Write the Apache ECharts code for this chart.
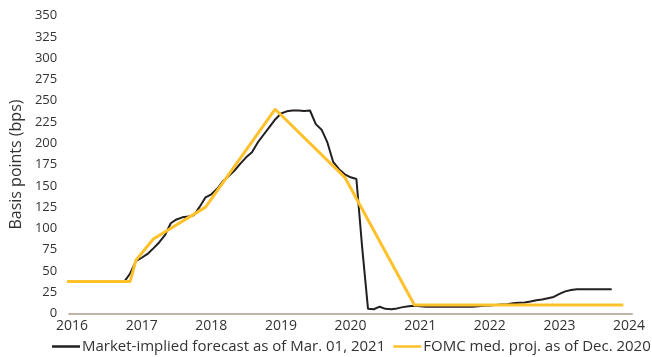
<!DOCTYPE html>
<html>
<head>
<meta charset="utf-8">
<script src="https://cdn.jsdelivr.net/npm/echarts@6/dist/echarts.min.js"></script>
<style>
  html, body { margin: 0; padding: 0; background: #ffffff; }
  #chart { width: 652px; height: 357px; }
</style>
</head>
<body>
<div id="chart"></div>
<script>
// Year labels on the horizontal axis
const yearTicks = [2016, 2017, 2018, 2019, 2020, 2021, 2022, 2023, 2024];

// Market-implied path, monthly from Dec 2015 (basis points)
const marketStart = '2015-12';
const marketValues = [
  37.5,
  37.5, 37.5, 37.5, 37.5, 37.5, 37.5, 37.5, 37.5, 37.5, 37.5,
  47, 61.5, 65.5, 70, 76.5, 83.5, 92, 106, 110.5, 113,
  114, 115.5, 125.5, 136.5, 140, 146.5, 155.5, 161.5, 168, 176,
  183.5, 189.5, 201, 210, 219, 228, 235, 237.5, 238.5, 238.5,
  238, 238.5, 222.5, 216, 201, 178, 169.5, 163.5, 160, 158,
  77, 5.5, 5, 8, 5.5, 5, 6, 7.5, 8.5, 9,
  8.5, 8, 8, 8, 8, 8, 8, 8, 8, 8,
  8.5, 9, 9.5, 10, 10.5, 11, 12, 12.5, 13, 14,
  15.5, 16.5, 18, 19.5, 23, 26, 27.5, 28.5, 28.5, 28.5,
  28.5, 28.5, 28.5, 28.5
];

// FOMC median projection path (basis points)
const fomcMonths = ['2015-12', '2016-11', '2016-12', '2017-03', '2017-12', '2018-12', '2019-12', '2020-12', '2023-12'];
const fomcValues = [37.5, 37.5, 62.5, 87.5, 125, 240, 160, 10, 10];

const seriesNames = ['Market-implied forecast as of Mar. 01, 2021', 'FOMC med. proj. as of Dec. 2020'];

// "YYYY-MM" -> fractional year at the start of that month
function monthPos(s) {
  const [y, m] = s.split('-').map(Number);
  return y + (m - 1) / 12;
}

const startPos = monthPos(marketStart);
const marketData = marketValues.map((v, i) => [startPos + i / 12, v]);
const fomcData = fomcMonths.map((m, i) => [monthPos(m), fomcValues[i]]);

const FONT = '"Open Sans", "Noto Sans", sans-serif';
const TEXT = '#333333';

const chart = echarts.init(document.getElementById('chart'), null, { renderer: 'canvas' });
chart.setOption({
  animation: false,
  backgroundColor: '#ffffff',
  grid: { left: 68, right: 20, top: 15.6, bottom: 43.5, containLabel: false },
  xAxis: {
    type: 'value',
    min: 2016 - 1 / 24,
    max: 2024 + 1 / 24,
    splitLine: { show: false },
    axisTick: { show: false },
    axisLine: { show: true, lineStyle: { color: '#BEB3A5', width: 2 } },
    axisLabel: {
      customValues: yearTicks,
      formatter: v => String(Math.round(v)),
      color: TEXT, fontFamily: FONT, fontSize: 14, margin: 6
    }
  },
  yAxis: {
    type: 'value',
    min: 0, max: 350, interval: 25,
    splitLine: { show: false },
    axisTick: { show: false },
    axisLine: { show: false },
    axisLabel: { color: TEXT, fontFamily: FONT, fontSize: 13, margin: 12 },
    name: 'Basis points (bps)',
    nameLocation: 'middle',
    nameGap: 45,
    nameTextStyle: { color: TEXT, fontFamily: FONT, fontSize: 16 }
  },
  legend: {
    data: seriesNames,
    left: 52, top: 339,
    padding: 0,
    icon: 'rect',
    itemWidth: 28, itemHeight: 2.5, itemGap: 8,
    textStyle: { color: TEXT, fontFamily: FONT, fontSize: 15, padding: [0, 0, 0, -3] }
  },
  series: [
    {
      name: seriesNames[0], type: 'line', data: marketData,
      showSymbol: false, symbol: 'none', clip: true,
      color: '#231F20',
      lineStyle: { color: '#231F20', width: 2 }
    },
    {
      name: seriesNames[1], type: 'line', data: fomcData,
      showSymbol: false, symbol: 'none', clip: true,
      color: '#FFC12B',
      lineStyle: { color: '#FFC12B', width: 3 }
    }
  ]
});
</script>
</body>
</html>
